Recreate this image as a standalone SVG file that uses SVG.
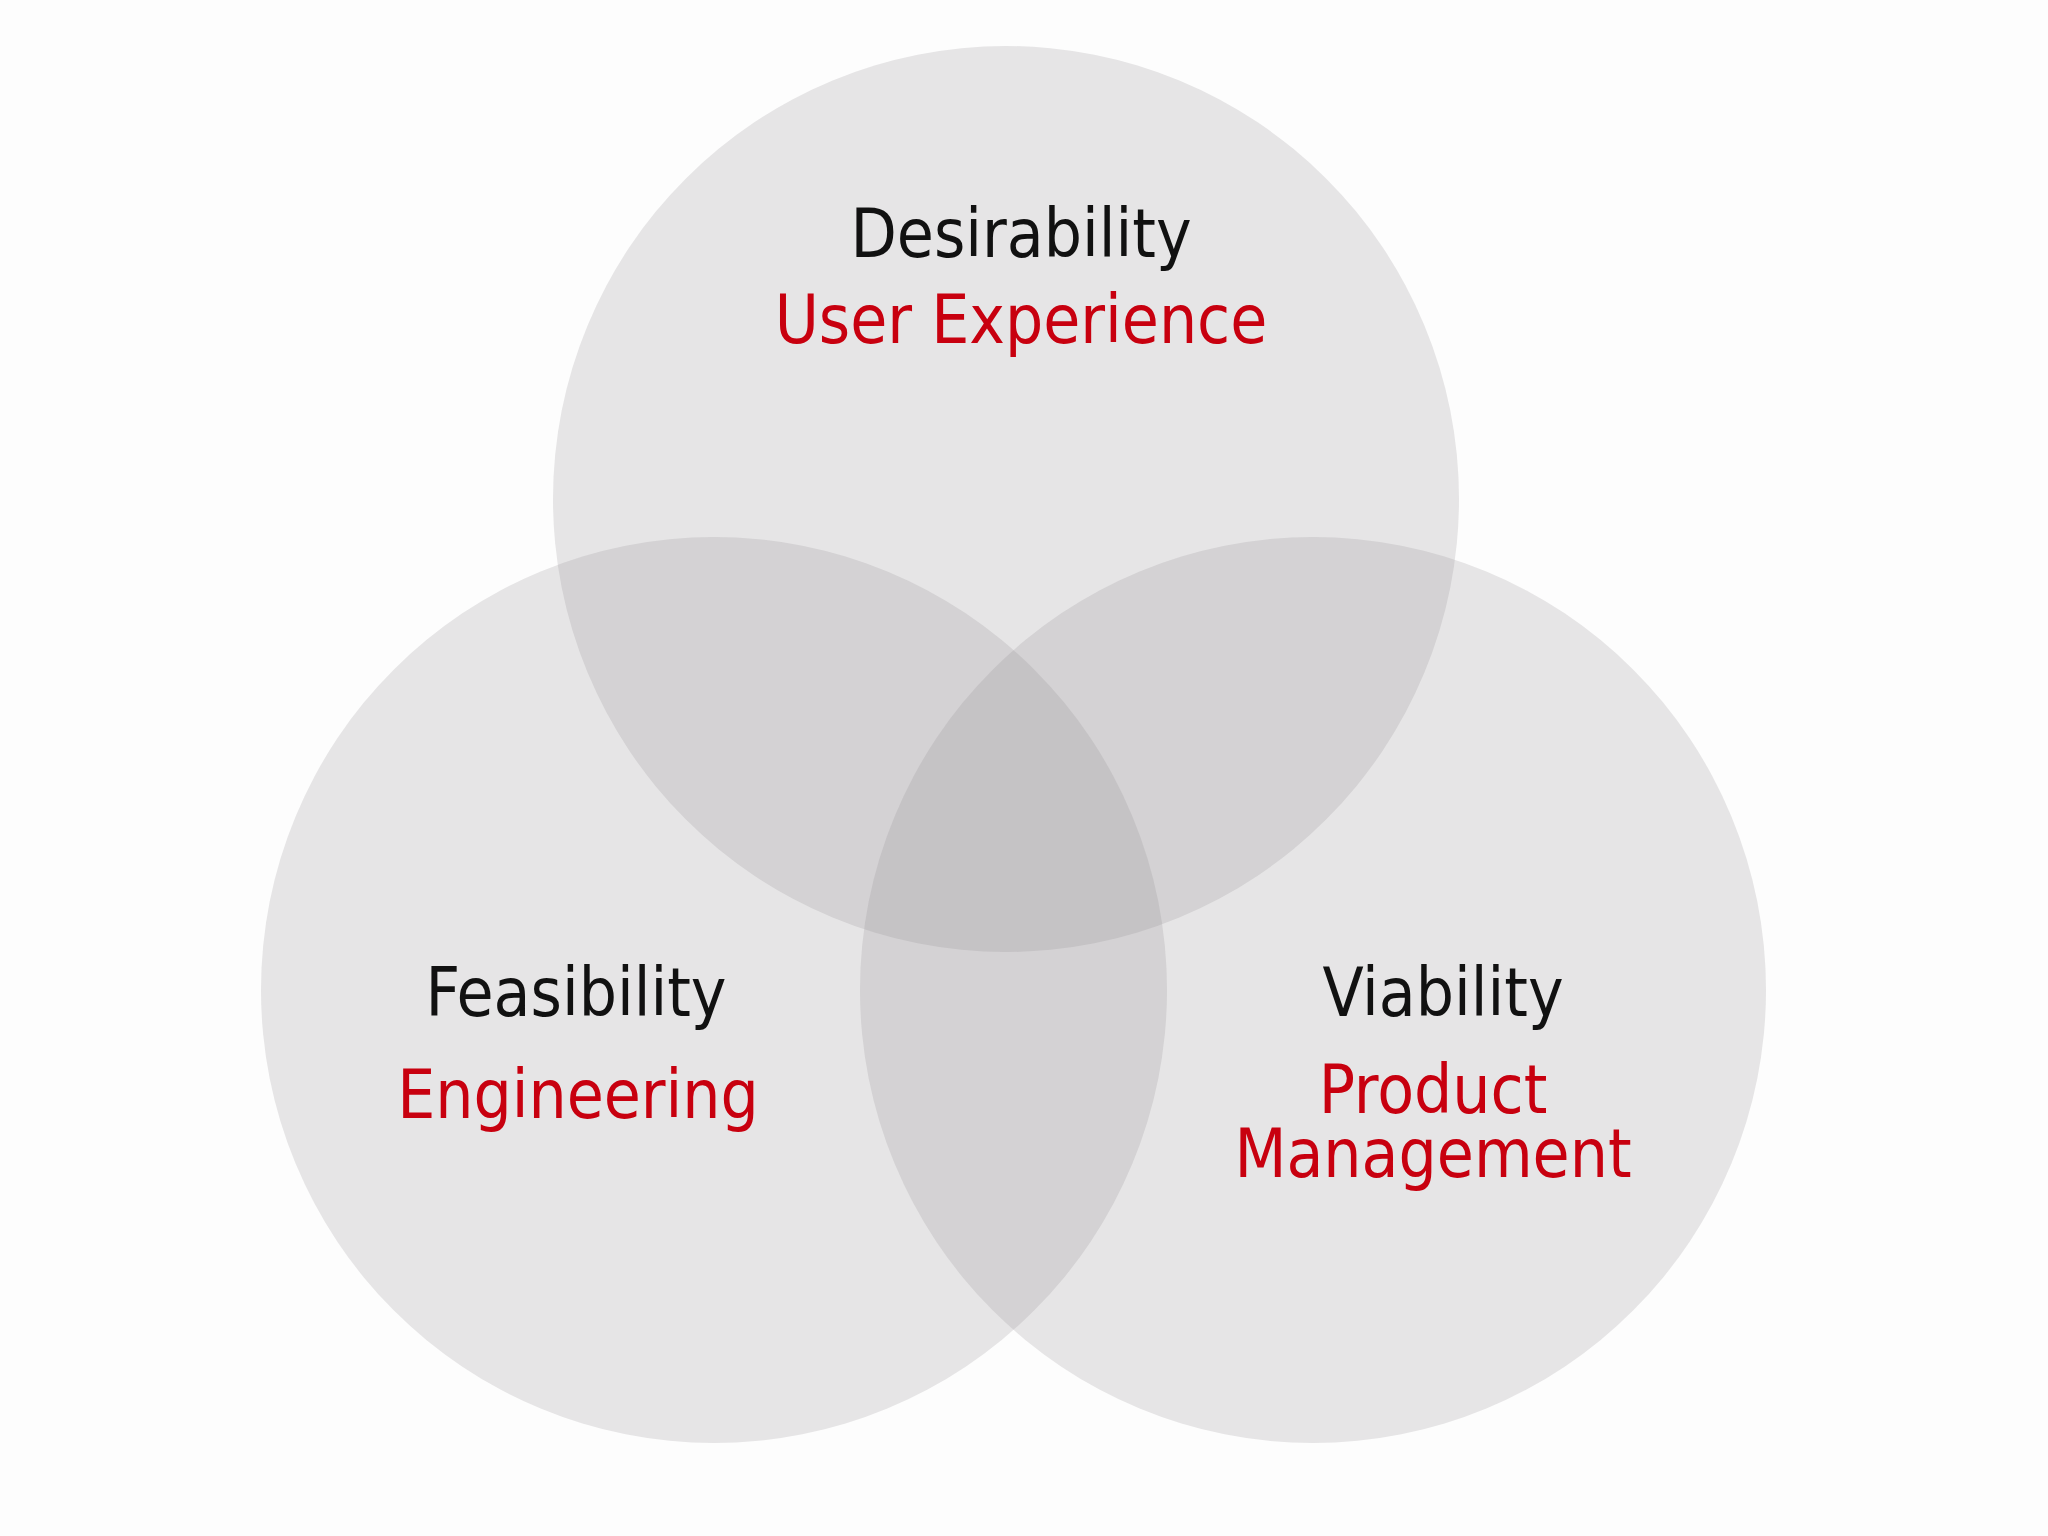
<svg xmlns="http://www.w3.org/2000/svg" width="2048" height="1536" viewBox="0 0 2048 1536">
<style>
.c{fill:#8a878c;fill-opacity:0.2}
text{font-family:"DejaVu Sans Condensed","DejaVu Sans",sans-serif;font-size:67px;text-anchor:middle}
.k{fill:#111}
.r{fill:#c8000f}
</style>
<rect width="2048" height="1536" fill="#fdfdfd"/>
<g id="desirability"><circle class="c" cx="1006" cy="499" r="453"/>
<text class="k" x="1021" y="257">Desirability</text>
<text class="r" x="1021" y="343">User Experience</text></g>
<g id="feasibility"><circle class="c" cx="714" cy="990" r="453"/>
<text class="k" x="576" y="1016">Feasibility</text>
<text class="r" x="578" y="1118">Engineering</text></g>
<g id="viability"><circle class="c" cx="1313" cy="990" r="453"/>
<text class="k" x="1443" y="1016">Viability</text>
<text class="r" x="1433" y="1113">Product</text>
<text class="r" x="1433" y="1177">Management</text></g>
<g id="connectors"/>
</svg>
